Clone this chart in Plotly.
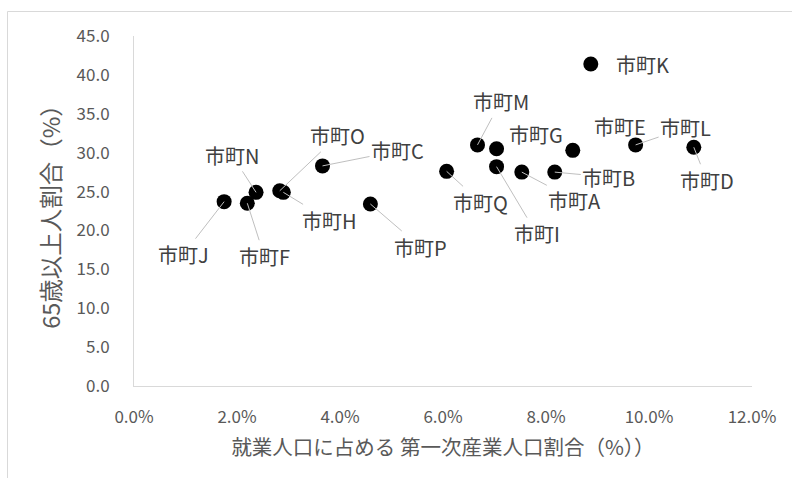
import plotly.graph_objects as go

# ---- data ----
names = ["市町A", "市町B", "市町C", "市町D", "市町E", "市町F", "市町G", "市町H", "市町I",
         "市町J", "市町K", "市町L", "市町M", "市町N", "市町O", "市町P", "市町Q"]
primary_share = [7.53, 8.17, 3.66, 10.87, 8.52, 2.20, 7.04, 2.90, 7.04,
                 1.75, 8.87, 9.74, 6.67, 2.37, 2.83, 4.59, 6.07]      # % of employed
elderly_share = [27.5, 27.5, 28.3, 30.7, 30.3, 23.5, 30.5, 24.9, 28.2,
                 23.7, 41.4, 31.0, 31.0, 24.9, 25.1, 23.4, 27.6]      # % aged 65+
x_tickvals = [0, 2, 4, 6, 8, 10, 12]
y_tickvals = [0, 5, 10, 15, 20, 25, 30, 35, 40, 45]

# ---- label placement (pixel offsets of label centre from point; style only) ----
label_offsets = {
    "市町A": (53, 28, True), "市町B": (54, 5, True), "市町C": (75, -15, True),
    "市町D": (13, 33, True), "市町E": (47, -24, False), "市町F": (17, 53, True),
    "市町G": (39, -14, False), "市町H": (46, 28, True), "市町I": (40, 67, True),
    "市町J": (-41, 53, True), "市町K": (52, 0, False), "市町L": (50, -17, True),
    "市町M": (23, -43, True), "市町N": (-24, -37, True), "市町O": (58, -55, True),
    "市町P": (50, 43, True), "市町Q": (34, 31, True),
}

FONT = "Noto Sans CJK JP"
LABEL_FONT = dict(family=FONT, size=20, color="#404040")
fig = go.Figure()
fig.add_trace(go.Scatter(
    x=primary_share, y=elderly_share, mode="markers",
    marker=dict(size=15, color="#000000"),
    text=names, hoverinfo="text", showlegend=False,
))

annotations = []
for n, xv, yv in zip(names, primary_share, elderly_share):
    dx, dy, leader = label_offsets[n]
    if leader:
        annotations.append(dict(
            x=xv, y=yv, xref="x", yref="y", text=n, showarrow=True,
            ax=dx, ay=dy, arrowhead=0, arrowwidth=1, arrowcolor="#bfbfbf",
            standoff=0, startstandoff=0, font=LABEL_FONT,
        ))
    else:
        annotations.append(dict(
            x=xv, y=yv, xref="x", yref="y", text=n, showarrow=False,
            xshift=dx, yshift=-dy, font=LABEL_FONT,
        ))

fig.update_layout(
    width=792, height=478,
    margin=dict(l=134, r=40, t=36, b=92),
    paper_bgcolor="white", plot_bgcolor="white",
    font=dict(family=FONT, color="#595959"),
    annotations=annotations,
    shapes=[dict(type="rect", xref="paper", yref="paper",
                 x0=-0.2047, x1=2.0, y0=1.07, y1=-1.0,
                 line=dict(color="#d9d9d9", width=1), fillcolor="rgba(0,0,0,0)",
                 layer="below")],
    xaxis=dict(
        range=[0, 12], tickvals=x_tickvals,
        ticktext=[f"{v:.1f}%" for v in x_tickvals],
        showgrid=False, zeroline=False, showline=True, linecolor="#d9d9d9", linewidth=1,
        ticks="", tickfont=dict(family=FONT, size=17, color="#595959"),
        ticklabelstandoff=16, automargin=False,
        title=dict(text="就業人口に占める 第一次産業人口割合（%））",
                   font=dict(family=FONT, size=20.5, color="#595959"), standoff=13),
    ),
    yaxis=dict(
        range=[0, 45], tickvals=y_tickvals,
        ticktext=[f"{v:.1f}" for v in y_tickvals],
        showgrid=False, zeroline=False, showline=True, linecolor="#d9d9d9", linewidth=1,
        ticks="", tickfont=dict(family=FONT, size=17, color="#595959"),
        ticklabelstandoff=20, automargin=False,
        title=dict(text="65歳以上人割合（%）",
                   font=dict(family=FONT, size=23.5, color="#595959"), standoff=9),
    ),
)

fig.write_html(
    "out.html",
    config={"displayModeBar": False},
    post_script="document.body.style.margin='0';document.body.style.overflow='hidden';",
)
